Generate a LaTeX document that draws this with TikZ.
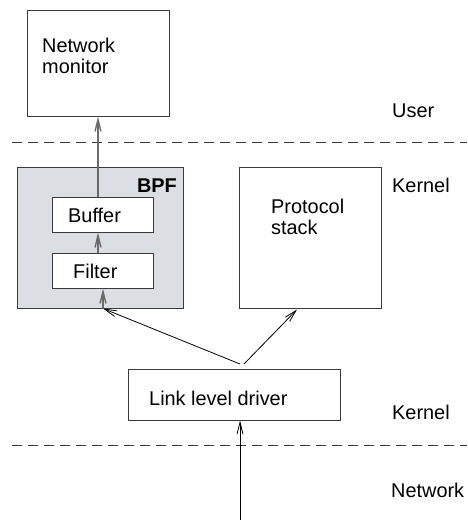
\documentclass[tikz,border=0pt]{standalone}
\usepackage{fontspec}
\setmainfont{Liberation Sans}
\usetikzlibrary{arrows.meta}
\definecolor{bpfgray}{HTML}{DBDEE2}
\definecolor{edgegray}{HTML}{3A3A3A}
\definecolor{pathgray}{HTML}{6A6A6A}
\tikzset{
  box/.style={draw=edgegray, line width=1pt, fill=white, inner sep=0pt},
  label/.style={inner sep=0pt, anchor=base west, font=\fontsize{19.9}{21}\selectfont},
  barb/.style={-{Straight Barb[length=12pt,width=6pt]}},
  flow/.style={barb, draw=pathgray, line width=1.4pt},
  feed/.style={barb, draw=black, line width=0.8pt},
  layer/.style={draw=edgegray, line width=0.9pt, dash pattern=on 10pt off 6pt}
}
\begin{document}
\begin{tikzpicture}[x=1pt,y=-1pt]
  \useasboundingbox (0,0) rectangle (467,520);

  % layer separators
  \draw[layer] (12,142) -- (467,142);
  \draw[layer] (12,445) -- (467,445);

  % boxes
  \node[box, minimum width=142pt, minimum height=106pt] (monitor) at (98,63) {};
  \node[box, fill=bpfgray, minimum width=166pt, minimum height=141pt] (bpf) at (100,237.5) {};
  \node[box, minimum width=101pt, minimum height=35pt] (buffer) at (102.5,214.5) {};
  \node[box, minimum width=101pt, minimum height=35pt] (filter) at (102.5,270.5) {};
  \node[box, minimum width=142pt, minimum height=141pt] (stack) at (310,237.5) {};
  \node[box, minimum width=212pt, minimum height=51pt] (driver) at (234,394.5) {};

  % box texts
  \node[label] (t1) at (42,52) {Network};
  \node[label] (t2) at (42,73) {monitor};
  \node[label, anchor=base east, font=\bfseries\fontsize{19.9}{21}\selectfont] (t3) at (177,192) {BPF};
  \node[label] (t4) at (68,222) {Buffer};
  \node[label] (t5) at (73,278) {Filter};
  \node[label] (t6) at (271,213) {Protocol};
  \node[label] (t7) at (271,234) {stack};
  \node[label] (t8) at (149,405) {Link level driver};

  % layer names
  \node[label] (l1) at (392,117) {User};
  \node[label] (l2) at (392,192) {Kernel};
  \node[label] (l3) at (392,419) {Kernel};
  \node[label] (l4) at (391,497) {Network};

  % packet paths
  \coordinate (bpfin) at (103,308.5);
  \coordinate (stackin) at (297,309.5);
  \coordinate (tapL) at (240,364);
  \coordinate (tapR) at (244,364);
  \coordinate (wire) at (240,520);

  \draw[flow] (buffer.north -| monitor) -- (monitor.south);
  \draw[flow] (filter.north -| monitor) -- (buffer.south -| monitor);
  \draw[flow] (bpfin) -- (filter.south -| bpfin);
  \draw[feed] (tapL) -- (bpfin);
  \draw[feed] (tapR) -- (stackin);
  \draw[feed] (wire) -- (driver.south -| wire);
\end{tikzpicture}
\end{document}
